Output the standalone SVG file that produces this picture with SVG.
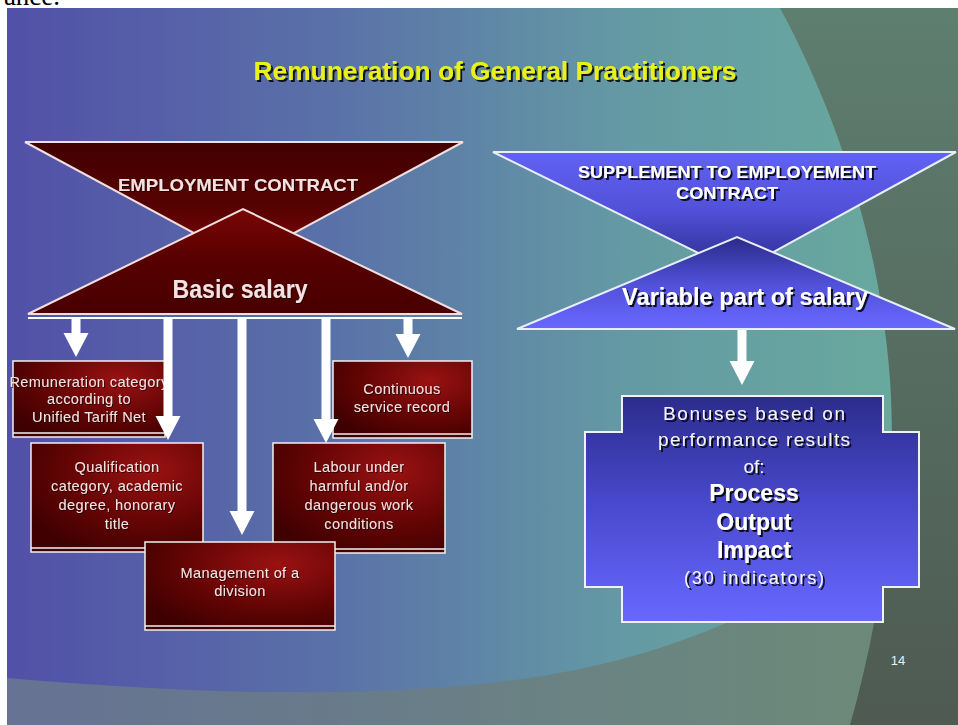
<svg xmlns="http://www.w3.org/2000/svg" width="958" height="725" viewBox="0 0 958 725">
<defs>
<linearGradient id="bg" x1="0" y1="0" x2="1" y2="0">
<stop offset="0" stop-color="#5250a8"/>
<stop offset="0.35" stop-color="#5a72a8"/>
<stop offset="0.65" stop-color="#649aa4"/>
<stop offset="1" stop-color="#6aac9c"/>
</linearGradient>
<linearGradient id="darkR" x1="0" y1="0" x2="0" y2="1">
<stop offset="0" stop-color="#5e7e70"/>
<stop offset="1" stop-color="#4e5a52"/>
</linearGradient>
<linearGradient id="band" x1="0" y1="0" x2="1" y2="0">
<stop offset="0" stop-color="#6a7890"/>
<stop offset="1" stop-color="#6c8472"/>
</linearGradient>
<linearGradient id="mTop" x1="0" y1="0" x2="0" y2="1">
<stop offset="0" stop-color="#420000"/>
<stop offset="0.6" stop-color="#5a0202"/>
<stop offset="1" stop-color="#8a0a0a"/>
</linearGradient>
<linearGradient id="mBot" x1="0" y1="0" x2="0" y2="1">
<stop offset="0" stop-color="#7a0606"/>
<stop offset="0.5" stop-color="#560000"/>
<stop offset="1" stop-color="#480000"/>
</linearGradient>
<radialGradient id="mBox" cx="0.7" cy="0.25" r="0.85">
<stop offset="0" stop-color="#9a1212"/>
<stop offset="0.6" stop-color="#620404"/>
<stop offset="1" stop-color="#3e0000"/>
</radialGradient>
<linearGradient id="bTop" x1="0" y1="0" x2="0" y2="1">
<stop offset="0" stop-color="#6262f4"/>
<stop offset="0.5" stop-color="#5050d8"/>
<stop offset="1" stop-color="#2a2a88"/>
</linearGradient>
<linearGradient id="bBot" x1="0" y1="0" x2="0" y2="1">
<stop offset="0" stop-color="#2a2a88"/>
<stop offset="0.5" stop-color="#5050d8"/>
<stop offset="1" stop-color="#6868ff"/>
</linearGradient>
<linearGradient id="bBox" x1="0" y1="0" x2="0" y2="1">
<stop offset="0" stop-color="#2c2c8c"/>
<stop offset="0.5" stop-color="#4a4ad0"/>
<stop offset="1" stop-color="#6868ff"/>
</linearGradient>
<filter id="sh" x="-10%" y="-40%" width="130%" height="180%">
<feDropShadow dx="2" dy="2" stdDeviation="0.6" flood-color="#000" flood-opacity="0.85"/>
</filter>
<filter id="shs" x="-10%" y="-40%" width="130%" height="180%">
<feDropShadow dx="1" dy="1" stdDeviation="0.4" flood-color="#000" flood-opacity="0.6"/>
</filter>
</defs>
<style>
text{font-family:"Liberation Sans",Arial,sans-serif;text-anchor:middle}
.tri{stroke:#f2dede;stroke-width:2;stroke-linejoin:miter}
.btri{stroke:#e8eef8;stroke-width:2}
.box{fill:url(#mBox);stroke:#f4f0f0;stroke-width:1.5}
.inner{stroke:#f4f0f0;stroke-width:1.5}
.bt{font-size:14.5px;fill:#f2e2e2;letter-spacing:0.4px;filter:url(#shs)}
.wt{fill:#ffffff;font-weight:bold;filter:url(#sh)}
.rt{fill:#f4f4ff;filter:url(#sh)}
.arr{fill:#ffffff}
</style>
<rect x="0" y="0" width="958" height="725" fill="#ffffff"/>
<text x="32" y="5" style="font-family:'Liberation Serif',serif;font-size:27px;fill:#000;text-anchor:middle">ance.</text>
<g id="background">
<rect x="7" y="8" width="951" height="717" fill="url(#bg)"/>
<path d="M7 678 C150 690 320 700 480 684 C640 668 760 620 870 540 L880 725 L7 725 Z" fill="url(#band)" opacity="0.85"/>
<path d="M780 8 C835 110 880 240 890 380 C898 500 880 620 850 725 L958 725 L958 8 Z" fill="url(#darkR)"/>
</g>
<g id="title">
<text x="495" y="80" style="font-size:26px;font-weight:bold;fill:#eaf01e;filter:url(#sh)" textLength="483" lengthAdjust="spacingAndGlyphs">Remuneration of General Practitioners</text>
</g>
<g id="employment-contract">
<polygon class="tri" points="25,142 463,142 244,260" fill="url(#mTop)"/>
<text x="238" y="191" style="font-size:17px;fill:#f4e2e2;font-weight:bold;filter:url(#shs)" textLength="240" lengthAdjust="spacingAndGlyphs">EMPLOYMENT CONTRACT</text>
</g>
<g id="basic-salary">
<polygon class="tri" points="28,314 462,314 243,209" fill="url(#mBot)"/>
<text x="240" y="298" style="font-size:25px;fill:#f4e2e2;font-weight:bold;filter:url(#shs)" textLength="135" lengthAdjust="spacingAndGlyphs">Basic salary</text>
</g>
<g id="supplement">
<polygon class="btri" points="493,152 956,152 737,272" fill="url(#bTop)"/>
<text class="wt" x="727" y="178" style="font-size:17px" textLength="298" lengthAdjust="spacingAndGlyphs">SUPPLEMENT TO EMPLOYEMENT</text>
<text class="wt" x="727" y="199" style="font-size:17px" textLength="102" lengthAdjust="spacingAndGlyphs">CONTRACT</text>
</g>
<g id="variable-salary">
<polygon class="btri" points="517,329 955,329 737,237" fill="url(#bBot)"/>
<text class="wt" x="745" y="305" style="font-size:24px" textLength="246" lengthAdjust="spacingAndGlyphs">Variable part of salary</text>
</g>
<g id="remuneration-category">
<rect class="box" x="13" y="361" width="152" height="76"/>
<line class="inner" x1="13" y1="433" x2="165" y2="433"/>
<text class="bt" x="89" y="387">Remuneration category</text>
<text class="bt" x="89" y="404">according to</text>
<text class="bt" x="89" y="422">Unified Tariff Net</text>
</g>
<g id="continuous-service">
<rect class="box" x="333" y="361" width="139" height="77"/>
<line class="inner" x1="333" y1="434" x2="472" y2="434"/>
<text class="bt" x="402" y="394">Continuous</text>
<text class="bt" x="402" y="412">service record</text>
</g>
<g id="qualification">
<rect class="box" x="31" y="443" width="172" height="109"/>
<line class="inner" x1="31" y1="548" x2="203" y2="548"/>
<text class="bt" x="117" y="472">Qualification</text>
<text class="bt" x="117" y="491">category,  academic</text>
<text class="bt" x="117" y="510">degree,  honorary</text>
<text class="bt" x="117" y="529">title</text>
</g>
<g id="labour">
<rect class="box" x="273" y="443" width="172" height="110"/>
<line class="inner" x1="273" y1="549" x2="445" y2="549"/>
<text class="bt" x="359" y="472">Labour under</text>
<text class="bt" x="359" y="491">harmful and/or</text>
<text class="bt" x="359" y="510">dangerous  work</text>
<text class="bt" x="359" y="529">conditions</text>
</g>
<g id="management">
<rect class="box" x="145" y="542" width="190" height="88"/>
<line class="inner" x1="145" y1="626" x2="335" y2="626"/>
<text class="bt" x="240" y="578">Management of a</text>
<text class="bt" x="240" y="596">division</text>
</g>
<g id="bonuses">
<polygon points="622,396 883,396 883,432 919,432 919,587 883,587 883,622 622,622 622,587 585,587 585,432 622,432" fill="url(#bBox)" stroke="#f0f0f8" stroke-width="2"/>
<text class="rt" x="754" y="420" style="font-size:19px" textLength="182" lengthAdjust="spacing">Bonuses based on</text>
<text class="rt" x="754" y="446" style="font-size:19px" textLength="192" lengthAdjust="spacing">performance results</text>
<text class="rt" x="754" y="473" style="font-size:19px">of:</text>
<text class="wt" x="754" y="501" style="font-size:23px">Process</text>
<text class="wt" x="754" y="530" style="font-size:23px">Output</text>
<text class="wt" x="754" y="558" style="font-size:23px">Impact</text>
<text class="rt" x="754" y="584" style="font-size:18px" textLength="140" lengthAdjust="spacing">(30 indicators)</text>
</g>
<g id="connectors">
<line x1="28" y1="318" x2="462" y2="318" stroke="#ffffff" stroke-width="2"/>
<polygon class="arr" points="71.5,318 80.5,318 80.5,333 88.5,333 76,357 63.5,333 71.5,333"/>
<polygon class="arr" points="163.5,318 172.5,318 172.5,416 180.5,416 168,440 155.5,416 163.5,416"/>
<polygon class="arr" points="237.5,318 246.5,318 246.5,511 254.5,511 242,535 229.5,511 237.5,511"/>
<polygon class="arr" points="321.5,318 330.5,318 330.5,419 338.5,419 326,443 313.5,419 321.5,419"/>
<polygon class="arr" points="403.5,318 412.5,318 412.5,334 420.5,334 408,358 395.5,334 403.5,334"/>
<polygon class="arr" points="737.5,330 746.5,330 746.5,361 754.5,361 742,385 729.5,361 737.5,361"/>
</g>
<text x="898" y="665" style="font-size:13px;fill:#eeeeee">14</text>
</svg>
